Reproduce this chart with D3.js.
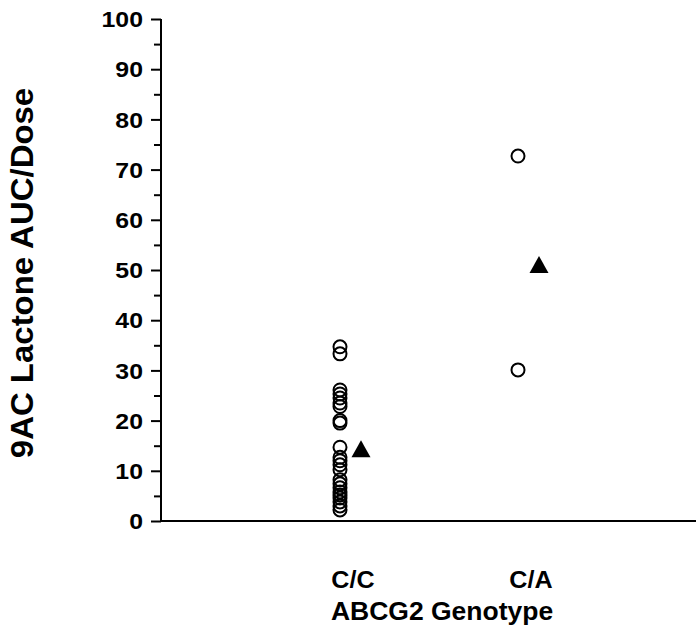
<!DOCTYPE html>
<html>
<head>
<meta charset="utf-8">
<script src="https://cdn.jsdelivr.net/npm/d3@7"></script>
<style>
  html, body { margin: 0; padding: 0; background: #fff; }
  svg { display: block; }
  text { font-family: "Liberation Sans", Arial, sans-serif; font-weight: bold; fill: #000; }
</style>
</head>
<body>
<svg id="chart" width="696" height="628"></svg>
<script>
// ---- data ----
const categories = ["C/C", "C/A"];
const valuesCC = [34.7, 33.3, 26.1, 25.3, 24.5, 23.5, 22.8, 20.0, 19.5, 14.7, 12.7, 12.0,
                  11.2, 10.2, 8.2, 7.4, 6.6, 5.8, 5.2, 4.6, 3.8, 3.0, 2.2];
const valuesCA = [72.7, 30.1];
const means = [14.3, 51.0];
const majorTicks = [0, 10, 20, 30, 40, 50, 60, 70, 80, 90, 100];
const minorTicks = [5, 15, 25, 35, 45, 55, 65, 75, 85, 95];
const yTitle = "9AC Lactone AUC/Dose";
const xTitle = "ABCG2 Genotype";

// ---- layout ----
const svg = d3.select("#chart");
const axisX = 161, axisBottom = 521, axisTop = 19, axisRight = 696;

const y = d3.scaleLinear().domain([0, 100]).range([axisBottom, axisTop]);
const x = d3.scalePoint().domain(categories).range([353, 531]);

// minor ticks
const minorAxis = d3.axisLeft(y).tickValues(minorTicks).tickSize(7).tickFormat("");
svg.append("g").attr("transform", `translate(${axisX},0)`).call(minorAxis)
  .call(g => g.select(".domain").remove())
  .call(g => g.selectAll("line").attr("stroke", "#000").attr("stroke-width", 2));

// major axis (ticks from d3, labels re-styled with horizontal stretch)
const tickSize = 10, tickPad = 8, stretch = 1.13;
const majorAxis = d3.axisLeft(y).tickValues(majorTicks).tickSize(tickSize).tickPadding(tickPad)
  .tickFormat(d3.format("d"));
svg.append("g").attr("transform", `translate(${axisX},0)`).call(majorAxis)
  .call(g => g.select(".domain").remove())
  .call(g => g.selectAll("line").attr("stroke", "#000").attr("stroke-width", 2))
  .call(g => g.selectAll("text")
    .attr("font-size", 22).attr("fill", "#000")
    .attr("font-family", "'Liberation Sans', Arial, sans-serif").attr("font-weight", "bold")
    .attr("x", null)
    .attr("dy", "0.35em")
    .attr("transform", `translate(${-(tickSize + tickPad)},0) scale(${stretch},1)`));

// axis lines
svg.append("line").attr("x1", axisX).attr("x2", axisX).attr("y1", y(100)).attr("y2", y(0))
  .attr("stroke", "#000").attr("stroke-width", 2);
svg.append("line").attr("x1", axisX - 1).attr("x2", axisRight).attr("y1", y(0)).attr("y2", y(0))
  .attr("stroke", "#000").attr("stroke-width", 2);

// points
const groups = [valuesCC, valuesCA];
groups.forEach((vals, i) => {
  svg.append("g").selectAll("circle").data(vals).join("circle")
    .attr("cx", x(categories[i]) - 13)
    .attr("cy", d => y(d))
    .attr("r", 6.5)
    .attr("fill", "none")
    .attr("stroke", "#000")
    .attr("stroke-width", 2);
});

// mean triangles
const tri = "M0,-9 L9.5,8 L-9.5,8 Z";
svg.append("g").selectAll("path").data(means).join("path")
  .attr("d", tri)
  .attr("transform", (d, i) => `translate(${x(categories[i]) + 8},${y(d)})`)
  .attr("fill", "#000");

// category labels
svg.append("g").selectAll("text").data(categories).join("text")
  .attr("transform", d => `translate(${x(d)},588) scale(1.07,1)`)
  .attr("text-anchor", "middle")
  .attr("font-size", 23.5)
  .text(d => d);

// x title
svg.append("text")
  .attr("transform", `translate(${(x("C/C") + x("C/A")) / 2},620) scale(1.06,1)`)
  .attr("text-anchor", "middle").attr("font-size", 25).text(xTitle);

// y title
svg.append("text").attr("transform", `translate(33,273) rotate(-90) scale(1.03,1)`)
  .attr("text-anchor", "middle").attr("font-size", 32).text(yTitle);
</script>
</body>
</html>
